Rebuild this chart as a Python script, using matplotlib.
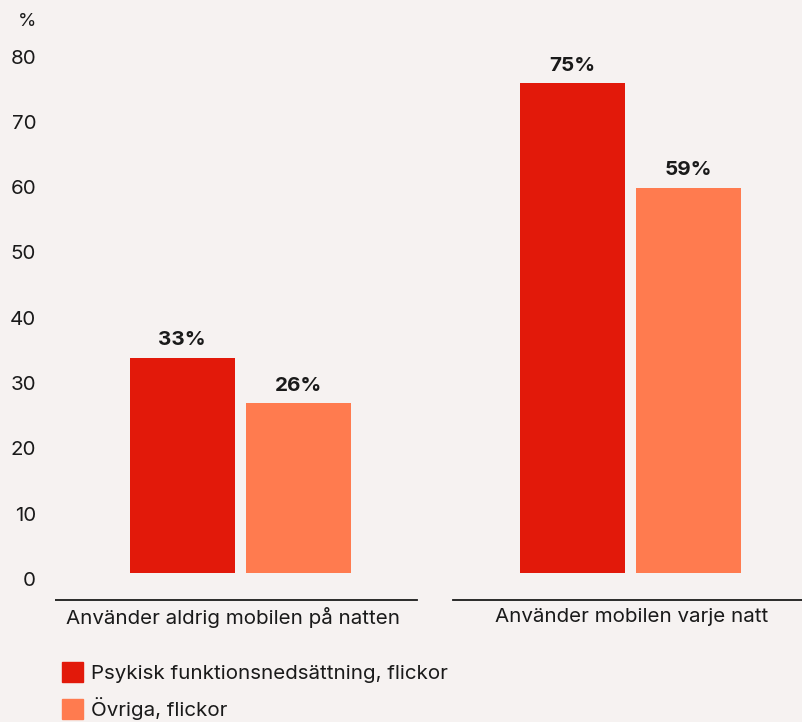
import matplotlib.pyplot as plt
from matplotlib.patches import Patch
from matplotlib.transforms import ScaledTranslation

# Data
categories = ['Använder aldrig mobilen på natten', 'Använder mobilen varje natt']
series_names = ['Psykisk funktionsnedsättning, flickor', 'Övriga, flickor']
values_psyk = [33, 75]
values_ovriga = [26, 59]
y_ticks = [0, 10, 20, 30, 40, 50, 60, 70, 80]

RED = '#E2190A'
SALMON = '#FF7B4F'
BG = '#F6F2F1'
TXT = '#1a1a1a'

plt.rcParams['font.family'] = ['Inter', 'DejaVu Sans']

W, H = 802, 722
fig = plt.figure(figsize=(W / 100, H / 100), dpi=100, facecolor=BG)

# axes placed in pixel units
px_left, px_right, px_top, px_bottom = 55, 802, 40, 605
ax = fig.add_axes([px_left / W, (H - px_bottom) / H,
                   (px_right - px_left) / W, (px_bottom - px_top) / H])
ax.set_facecolor(BG)

# scale: 390 px per category, 6.53 px per percent
x0 = (px_left - 240) / 390
x1 = (px_right - 240) / 390
ax.set_xlim(x0, x1)
ax.set_ylim(-(px_bottom - 573) / 6.53, (573 - px_top) / 6.53)

bar_w = 105 / 390
off = 58 / 390
xs = list(range(len(categories)))
ax.bar([x - off for x in xs], values_psyk, width=bar_w, color=RED, label=series_names[0])
ax.bar([x + off for x in xs], values_ovriga, width=bar_w, color=SALMON, label=series_names[1])

fs = 14.8
for x, v in zip(xs, values_psyk):
    ax.annotate(f'{v}%', (x - off, v), xytext=(0, 6), textcoords='offset points',
                ha='center', va='bottom', fontsize=fs, fontweight='bold', color=TXT)
for x, v in zip(xs, values_ovriga):
    ax.annotate(f'{v}%', (x + off, v), xytext=(0, 6), textcoords='offset points',
                ha='center', va='bottom', fontsize=fs, fontweight='bold', color=TXT)

# baseline under each group + category label
base_y = -(599.5 - 573) / 6.53
group_shift = [-0.012, 0.01]
for x, cat, sh in zip(xs, categories, group_shift):
    c = x + sh
    ax.plot([c - 0.465, c + 0.465], [base_y, base_y], color=TXT, lw=1.3, clip_on=True)
    ax.text(c - 0.005, -(617 - 573) / 6.53, cat, ha='center', va='center', fontsize=fs,
            color=TXT, clip_on=False)

for s in ax.spines.values():
    s.set_visible(False)
ax.set_xticks([])
ax.set_yticks(y_ticks)
ax.set_yticklabels([str(t) for t in y_ticks], fontsize=fs, color=TXT)
ax.tick_params(axis='y', length=0, pad=13.5)
shift = ScaledTranslation(0, -6 / 100, fig.dpi_scale_trans)
for lab in ax.get_yticklabels():
    lab.set_transform(lab.get_transform() + shift)

fig.text(27 / W, 1 - 22 / H, '%', ha='center', va='center', fontsize=13.5, color=TXT)

handles = [Patch(color=RED), Patch(color=SALMON)]
fig.legend(handles, series_names, loc='upper left',
           bbox_to_anchor=(62 / W, 1 - 662 / H), frameon=False, fontsize=fs,
           borderpad=0, borderaxespad=0, handlelength=1.0, handleheight=1.1,
           handletextpad=0.4, labelspacing=0.7, labelcolor=TXT)

fig.savefig('out.png', dpi=100, facecolor=BG)
